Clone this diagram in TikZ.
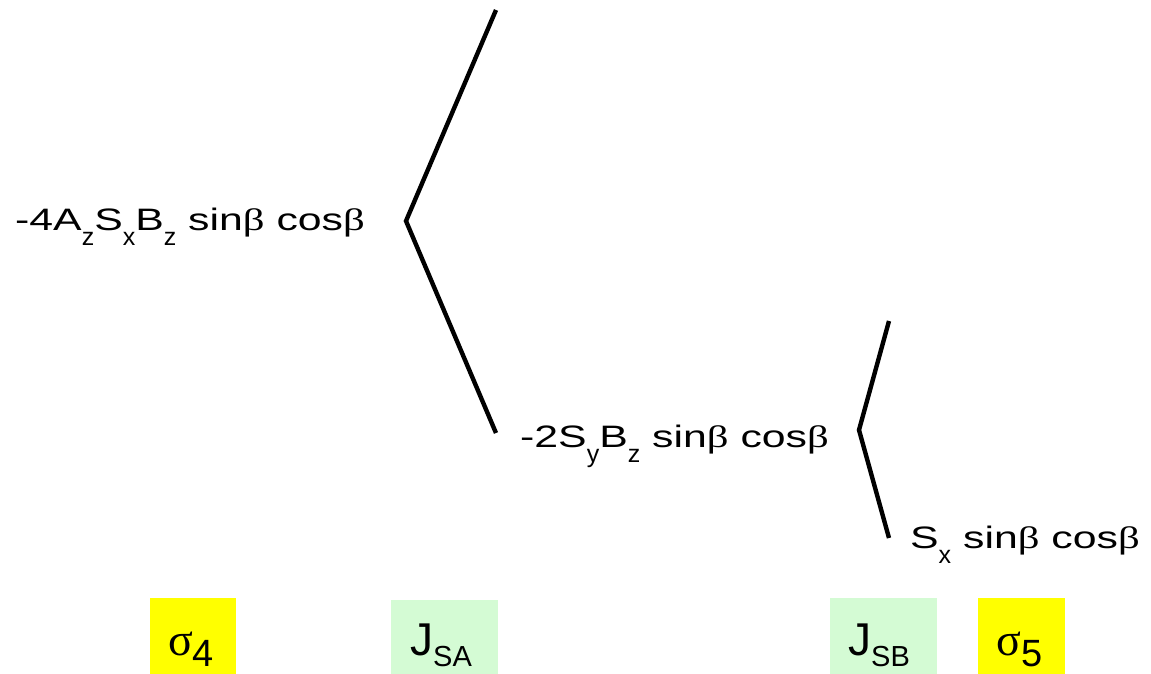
\documentclass[tikz,border=0pt]{standalone}
\usepackage{fontspec}
\setmainfont{Liberation Sans}
\newfontfamily\wide{Liberation Sans}[FakeStretch=1.38]
\newfontfamily\gkw{Liberation Serif}[FakeStretch=1.38]
\newfontfamily\gk{Liberation Serif}
\newcommand\lsub[1]{\raisebox{-15pt}{\normalfont\fontsize{25}{25}\selectfont #1}}
\newcommand\jsub[1]{\raisebox{-11pt}{\normalfont\fontsize{29}{29}\selectfont #1}}
\newcommand\ssub[1]{\raisebox{-11pt}{\normalfont\fontsize{38}{38}\selectfont #1}}
\definecolor{boxyellow}{RGB}{255,255,0}
\definecolor{boxgreen}{RGB}{212,251,212}
\tikzset{
  term/.style={anchor=base west, inner sep=0pt, font=\wide\fontsize{31}{37}\selectfont},
  fork/.style={line width=4.4pt, line join=miter},
  yelbox/.style={fill=boxyellow, draw=none},
  grnbox/.style={fill=boxgreen, draw=none},
  boxlabel/.style={anchor=base west, inner sep=0pt, font=\fontsize{46}{52}\selectfont}
}
\begin{document}
\begin{tikzpicture}[x=1pt,y=-1pt]
\useasboundingbox (0,0) rectangle (1151,674);
% terms
\node[term] (t1) at (15,230) {-4A\lsub{z}S\lsub{x}B\lsub{z} sin{\gkw β} cos{\gkw β}};
\node[term] (t2) at (520,447) {-2S\lsub{y}B\lsub{z} sin{\gkw β} cos{\gkw β}};
\node[term] (t3) at (910,548) {S\lsub{x} sin{\gkw β} cos{\gkw β}};
% forks
\coordinate (f1top) at (496,10);
\coordinate (f1v) at (406,221);
\coordinate (f1bot) at (496,433);
\coordinate (f2top) at (889,321);
\coordinate (f2v) at (859,430);
\coordinate (f2bot) at (889,538);
\draw[fork] (f1top) -- (f1v) -- (f1bot);
\draw[fork] (f2top) -- (f2v) -- (f2bot);
% boxes
\fill[yelbox] (150,598) rectangle (236,674);
\fill[grnbox] (391,600) rectangle (498,674);
\fill[grnbox] (830,598) rectangle (937,674);
\fill[yelbox] (978,598) rectangle (1065,674);
\node[boxlabel] (s4) at (168,655) {{\gk σ}\ssub{4}};
\node[boxlabel] (jsa) at (410,655) {J\jsub{SA}};
\node[boxlabel] (jsb) at (848,655) {J\jsub{SB}};
\node[boxlabel] (s5) at (996,655) {{\gk σ}\ssub{5}};
\end{tikzpicture}
\end{document}
